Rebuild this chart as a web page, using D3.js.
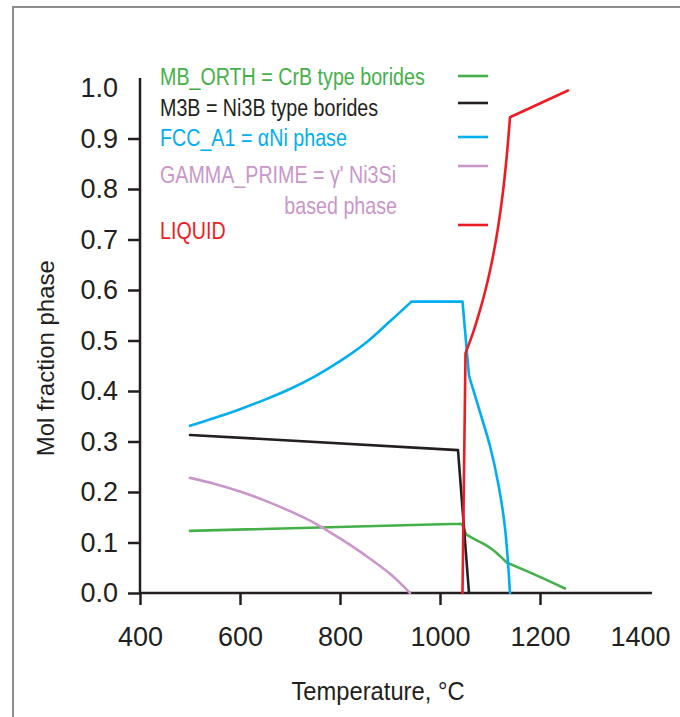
<!DOCTYPE html>
<html>
<head>
<meta charset="utf-8">
<script src="https://cdn.jsdelivr.net/npm/d3@7/dist/d3.min.js"></script>
<style>
  html, body { margin: 0; padding: 0; background: #fff; }
  svg { display: block; }
</style>
</head>
<body>
<svg id="chart" width="680" height="717"></svg>
<script>
// ---- data (temperature °C, mol fraction) ----
const xTicks = [400, 600, 800, 1000, 1200, 1400];
const yTicks = [0.0, 0.1, 0.2, 0.3, 0.4, 0.5, 0.6, 0.7, 0.8, 0.9, 1.0];

const mbOrth = [[500,0.123],[1040,0.137],[1044,0.135],[1052,0.116],[1070,0.106],[1090,0.096],[1105,0.086],[1120,0.073],[1134,0.060],[1193,0.035],[1250,0.009]];
const m3b = [[500,0.313],[1036,0.283],[1058,0.0]];
const fccA1 = [[500,0.331],[550,0.347],[600,0.364],[650,0.383],[700,0.404],[750,0.429],[800,0.459],[850,0.494],[900,0.538],[943,0.577],[1045,0.577],[1058,0.430],[1080,0.358],[1100,0.291],[1117,0.214],[1130,0.129],[1140,0.0]];
const gammaPrime = [[500,0.228],[550,0.216],[600,0.201],[650,0.183],[700,0.162],[750,0.138],[800,0.108],[850,0.075],[900,0.038],[940,0.0]];
const liquid = [[1045,0.0],[1051,0.475],[1066,0.515],[1080,0.560],[1091,0.600],[1100,0.638],[1108,0.677],[1115,0.717],[1121,0.757],[1127,0.803],[1132,0.850],[1136,0.893],[1140,0.942],[1256,0.995]];

const seriesNames = ["MB_ORTH = CrB type borides", "M3B = Ni3B type borides", "FCC_A1 = \u03B1Ni phase", "GAMMA_PRIME = \u03B3' Ni3Si", "LIQUID"];
const seriesColors = ["#45b04a", "#231f20", "#00aeef", "#c996c9", "#ec1c24"];
const seriesData = [mbOrth, m3b, fccA1, gammaPrime, liquid];
// indices of sharp corners in each series (curve is smooth between them)
const seriesKinks = [[1, 3, 8], [1], [9, 10, 11], [], [1, 12]];

// ---- chart ----
const svg = d3.select("#chart");
const font = "'Liberation Sans', Arial, sans-serif";

// frame
svg.append("rect").attr("x", 13).attr("y", 7).attr("width", 700).attr("height", 720)
  .attr("fill", "none").attr("stroke", "#8c8c8c").attr("stroke-width", 2);

const x = d3.scaleLinear().domain([400, 1400]).range([140, 640]);
const y = d3.scaleLinear().domain([0, 1]).range([593, 88]);

// axes
const xAxis = d3.axisBottom(x).tickValues(xTicks).tickSize(12).tickPadding(22).tickFormat(d3.format("d"));
const gx = svg.append("g").attr("transform", `translate(0,${y(0)})`).call(xAxis);
gx.select(".domain").remove();
gx.selectAll(".tick line").attr("stroke", "#231f20").attr("stroke-width", 2.5)
  .attr("opacity", d => d === 1400 ? 0 : 1);
gx.selectAll(".tick text").attr("font-family", font).attr("font-size", 27).attr("fill", "#231f20");
svg.append("line").attr("x1", x(400)).attr("x2", x(1424)).attr("y1", y(0)).attr("y2", y(0))
  .attr("stroke", "#231f20").attr("stroke-width", 2.5);

const yAxis = d3.axisLeft(y).tickValues(yTicks).tickSize(12).tickPadding(10).tickFormat(d3.format(".1f"));
const gy = svg.append("g").attr("transform", `translate(${x(400)},0)`).call(yAxis);
gy.select(".domain").remove();
gy.selectAll(".tick line").attr("stroke", "#231f20").attr("stroke-width", 2.5)
  .attr("opacity", d => d === 1.0 ? 0 : 1);
gy.selectAll(".tick text").attr("font-family", font).attr("font-size", 27).attr("fill", "#231f20");
svg.append("line").attr("x1", x(400)).attr("x2", x(400)).attr("y1", y(0)).attr("y2", y(1.02))
  .attr("stroke", "#231f20").attr("stroke-width", 2.5);

// axis titles
svg.append("text").attr("transform", `translate(${x(876)},700) scale(0.95,1)`)
  .attr("text-anchor", "middle").attr("font-family", font).attr("font-size", 25).attr("fill", "#231f20")
  .text("Temperature, \u00B0C");
svg.append("text").attr("transform", `translate(54,${y(0.465)}) rotate(-90)`)
  .attr("text-anchor", "middle").attr("font-family", font).attr("font-size", 24).attr("fill", "#231f20")
  .text("Mol fraction phase");

// lines: split each series at its corners, smooth each piece
const smooth = d3.line().x(d => x(d[0])).y(d => y(d[1])).curve(d3.curveCatmullRom.alpha(0.5));
seriesData.forEach((data, i) => {
  const cuts = [0, ...seriesKinks[i], data.length - 1];
  const pieces = [];
  for (let k = 0; k < cuts.length - 1; k++) pieces.push(data.slice(cuts[k], cuts[k + 1] + 1));
  svg.append("path").attr("d", pieces.map(p => smooth(p)).join(""))
    .attr("fill", "none").attr("stroke", seriesColors[i]).attr("stroke-width", 2.6)
    .attr("stroke-linejoin", "round").attr("stroke-linecap", "round");
});

// legend
const legendBaselines = [85, 116, 146, 183, 239];
const legendLineY = [76, 103, 137, 166, 225];
seriesNames.forEach((name, i) => {
  svg.append("text").attr("transform", `translate(160,${legendBaselines[i]}) scale(0.82,1)`)
    .attr("font-family", font).attr("font-size", 24).attr("fill", seriesColors[i]).text(name);
  svg.append("line").attr("x1", 458).attr("x2", 488).attr("y1", legendLineY[i]).attr("y2", legendLineY[i])
    .attr("stroke", seriesColors[i]).attr("stroke-width", 2.6);
});
svg.append("text").attr("transform", `translate(397,214) scale(0.82,1)`)
  .attr("text-anchor", "end").attr("font-family", font).attr("font-size", 24).attr("fill", seriesColors[3])
  .text("based phase");
</script>
</body>
</html>
